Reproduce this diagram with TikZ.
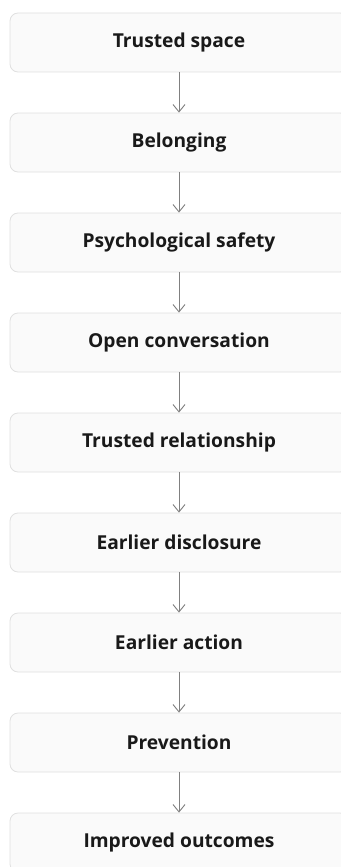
\documentclass[tikz,border=0pt]{standalone}
\usepackage{fontspec}
\setmainfont{Open Sans}
\usepackage{xcolor}
\usetikzlibrary{arrows.meta}

\definecolor{boxfill}{RGB}{250,250,250}
\definecolor{boxline}{RGB}{224,224,224}
\definecolor{arrowgray}{RGB}{128,128,128}

\tikzset{
    stagebox/.style={draw=boxline, fill=boxfill, rounded corners=6pt, line width=0.6pt,
        minimum width=253.5pt, minimum height=44.25pt, inner sep=0pt,
        font=\bfseries\fontsize{14.4}{16}\selectfont, text=black!90},
    flowarrow/.style={draw=arrowgray, line width=0.7pt, -{Straight Barb[length=5.5pt,width=9pt]}}
}

\begin{document}
\begin{tikzpicture}[x=0.75pt,y=0.75pt,yscale=-1,xscale=1]
        \useasboundingbox (0,0) rectangle (341,867);
        
        % Boxes
        \node [stagebox] (space) at (179,42.5) {Trusted space};
        \node [stagebox] (belong) at (179,142.5) {Belonging};
        \node [stagebox] (safety) at (179,242.5) {Psychological safety};
        \node [stagebox] (convo) at (179,342.5) {Open conversation};
        \node [stagebox] (relation) at (179,442.5) {Trusted relationship};
        \node [stagebox] (disclose) at (179,542.5) {Earlier disclosure};
        \node [stagebox] (action) at (179,642.5) {Earlier action};
        \node [stagebox] (prevent) at (179,742.5) {Prevention};
        \node [stagebox] (outcome) at (179,842.5) {Improved outcomes};
        
        % Arrows
        \draw [flowarrow] (space) -- (belong);
        \draw [flowarrow] (belong) -- (safety);
        \draw [flowarrow] (safety) -- (convo);
        \draw [flowarrow] (convo) -- (relation);
        \draw [flowarrow] (relation) -- (disclose);
        \draw [flowarrow] (disclose) -- (action);
        \draw [flowarrow] (action) -- (prevent);
        \draw [flowarrow] (prevent) -- (outcome);
        
\end{tikzpicture}
\end{document}
